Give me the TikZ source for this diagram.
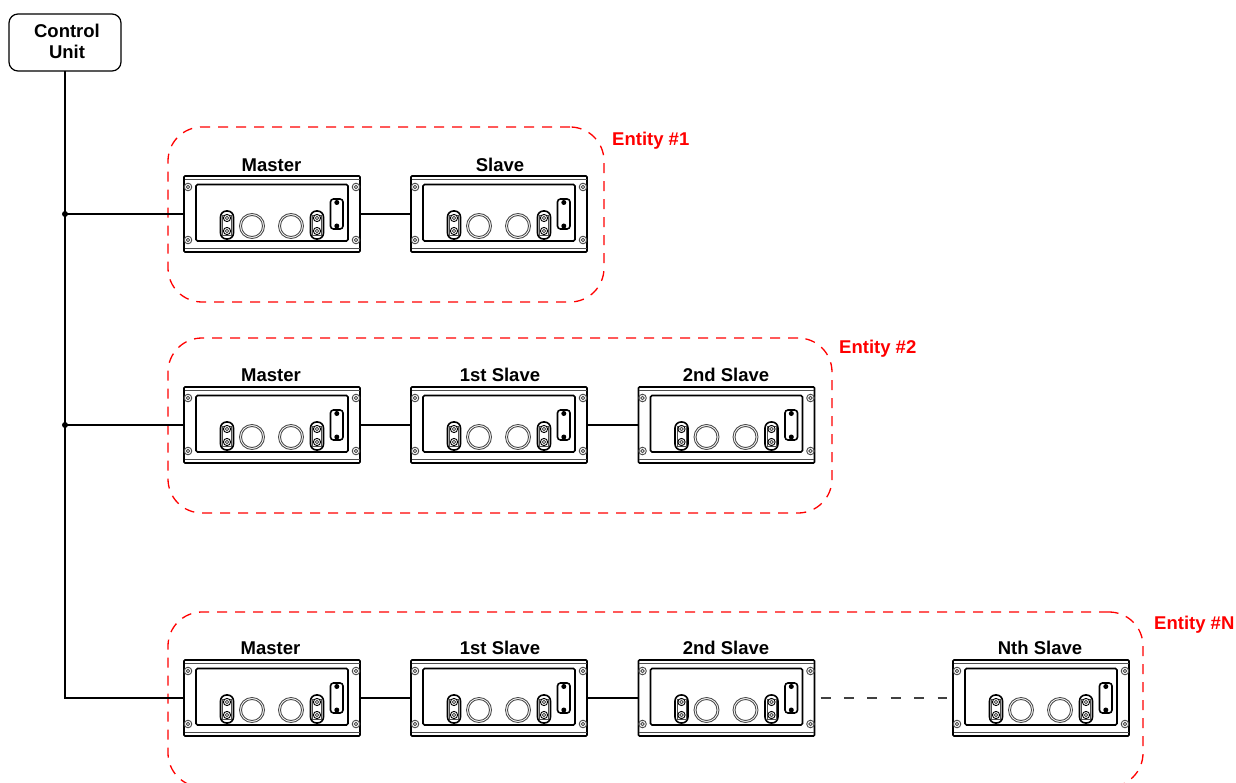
\documentclass[tikz,border=0pt]{standalone}
\usepackage{fontspec}
\setmainfont{Liberation Sans}
\tikzset{
  devbox/.style={draw=black,line width=1.6pt,rounded corners=1pt,minimum width=176pt,minimum height=76pt,inner sep=0pt,outer sep=0pt,anchor=north west},
  devline/.style={draw=black,line width=1.6pt,rounded corners=1.5pt},
  devthin/.style={draw=black!70,line width=.9pt},
  wire/.style={draw=black,line width=1.1pt},
  dotline/.style={draw=black!75,line width=1.2pt,dash pattern=on 10pt off 13.4pt},
  junct/.style={circle,fill=black,inner sep=0pt,minimum size=6pt},
  entity/.style={draw=red,line width=1.3pt,dash pattern=on 10pt off 8pt,rounded corners=34pt,inner sep=0pt,outer sep=0pt,anchor=north west},
  entlabel/.style={text=red,font=\bfseries\fontsize{18.5pt}{21pt}\selectfont,anchor=west,inner sep=0pt},
  devlabel/.style={text=black,font=\bfseries\fontsize{18.5pt}{21pt}\selectfont,inner sep=0pt},
  unit/.style={draw=black,line width=1.2pt,rounded corners=9pt,minimum width=112pt,minimum height=57pt,inner sep=0pt,outer sep=0pt,anchor=north west},
  unittext/.style={align=center,inner sep=0pt,font=\bfseries\fontsize{18.5pt}{21pt}\selectfont}
}
\newcommand{\devscrew}[2]{\draw[devthin] (#1,#2) circle (3.8pt); \draw[devthin] (#1,#2) circle (1.8pt);}
\newcommand{\devslot}[1]{%
  \draw[devline,rounded corners=6pt] (#1-6.5,211) rectangle (#1+6.5,239);
  \draw[devthin] (#1-4.5,215) rectangle (#1+4.5,235);
  \draw[draw=black,fill=white,line width=.9pt] (#1,218) circle (3.6pt); \draw[devthin] (#1,218) circle (1.7pt);
  \draw[draw=black,fill=white,line width=.9pt] (#1,231) circle (3.6pt); \draw[devthin] (#1,231) circle (1.7pt);}
\newcommand{\device}[3]{%
  \node[devbox] (#1) at (#2,-#3) {};
  \begin{scope}[x=1pt,y=-1pt,shift={(#2-184,#3-176)}]
    \draw[devthin] (184.5,179) -- (359.5,179);
    \draw[devthin] (184.5,248) -- (359.5,248);
    \draw[devline] (196,184.5) rectangle (348,241);
    \devscrew{188}{187}\devscrew{356}{187}\devscrew{188}{240}\devscrew{356}{240}
    \devslot{227}\devslot{317}
    \draw[devthin] (252,226) circle (12.5pt); \draw[devthin] (252,226) circle (10.5pt);
    \draw[devthin] (291,226) circle (12.5pt); \draw[devthin] (291,226) circle (10.5pt);
    \draw[devline,rounded corners=3pt] (330.5,199) rectangle (343,229);
    \fill (336.8,202.5) circle (2.5pt); \fill (336.8,226) circle (2.5pt);
  \end{scope}}
\begin{document}
\begin{tikzpicture}[x=1pt,y=1pt]
\useasboundingbox (0,0) rectangle (1236,-783);
\clip (0,0) rectangle (1236,-783);
% entity outlines
\node[entity,minimum width=436pt,minimum height=175pt] (e1) at (168,-127) {};
\node[entity,minimum width=664pt,minimum height=175pt] (e2) at (168,-338) {};
\node[entity,minimum width=975pt,minimum height=175pt] (e3) at (168,-612) {};
\node[entlabel] (l1) at (612,-141) {Entity \#1};
\node[entlabel] (l2) at (839,-349) {Entity \#2};
\node[entlabel] (l3) at (1154,-625) {Entity \#N};
% control unit
\node[unit] (cu) at (9,-14) {};
\node[unittext] (cut) at (67,-41) {Control\\Unit};
% devices
\device{a1}{184}{176}
\device{a2}{411}{176}
\device{b1}{184}{387}
\device{b2}{411}{387}
\device{b3}{638.5}{387}
\device{c1}{184}{660}
\device{c2}{411}{660}
\device{c3}{638.5}{660}
\device{c4}{953}{660}
% device labels
\node[devlabel] (ta1) at (271.5,-165) {Master};
\node[devlabel] (ta2) at (500,-165) {Slave};
\node[devlabel] (tb1) at (271,-375) {Master};
\node[devlabel] (tb2) at (500,-375) {1st Slave};
\node[devlabel] (tb3) at (726,-375) {2nd Slave};
\node[devlabel] (tc1) at (270.5,-648) {Master};
\node[devlabel] (tc2) at (500,-648) {1st Slave};
\node[devlabel] (tc3) at (726,-648) {2nd Slave};
\node[devlabel] (tc4) at (1040,-648) {Nth Slave};
% bus
\coordinate (ja) at (cu.south |- a1.west);
\coordinate (jb) at (cu.south |- b1.west);
\coordinate (jc) at (cu.south |- c1.west);
\draw[wire] (cu.south) -- (jc) -- (c1.west);
\draw[wire] (ja) -- (a1.west);
\draw[wire] (jb) -- (b1.west);
\node[junct] (na) at (ja) {};
\node[junct] (nb) at (jb) {};
\draw[wire] (a1.east) -- (a2.west);
\draw[wire] (b1.east) -- (b2.west);
\draw[wire] (b2.east) -- (b3.west);
\draw[wire] (c1.east) -- (c2.west);
\draw[wire] (c2.east) -- (c3.west);
\draw[dotline,shorten <=6pt,shorten >=6pt] (c3.east) -- (c4.west);
\end{tikzpicture}
\end{document}
